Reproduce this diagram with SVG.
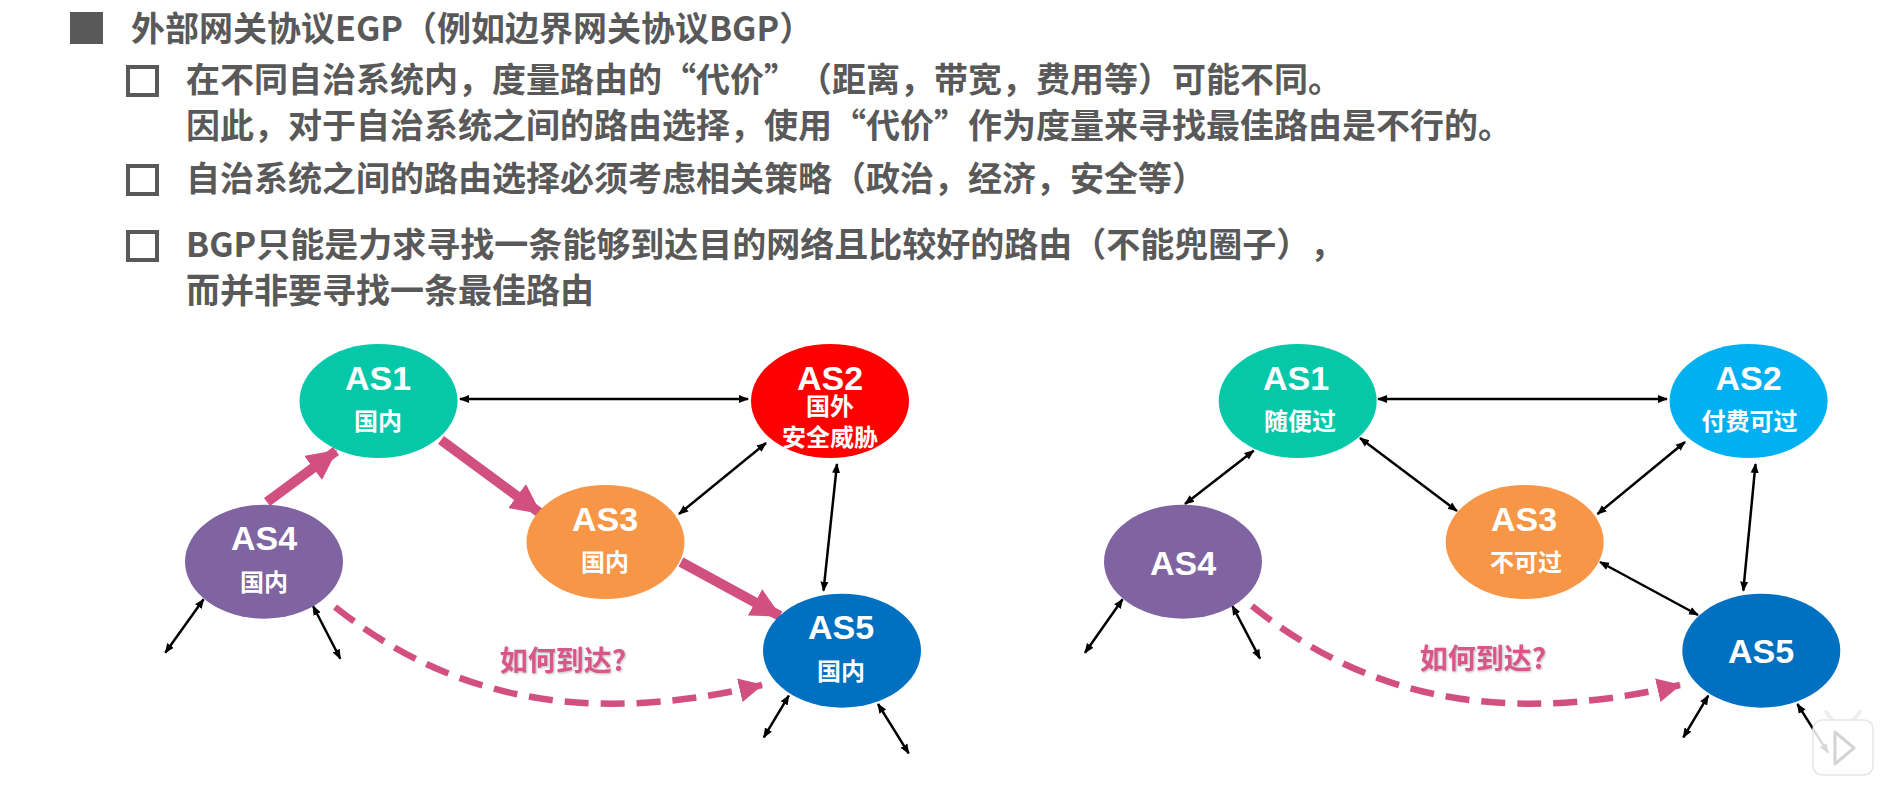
<svg xmlns="http://www.w3.org/2000/svg" width="1892" height="808" viewBox="0 0 1892 808">
<style>
.t{font-family:"Noto Sans CJK SC","Noto Sans",sans-serif;font-weight:700;fill:#595959;font-size:34px;text-spacing-trim:space-all}
.as{font-family:"Liberation Sans","Noto Sans CJK SC",sans-serif;font-weight:700;fill:#fff;font-size:34px;text-anchor:middle}
.sub{font-family:"Noto Sans CJK SC",sans-serif;font-weight:700;fill:#fff;font-size:24px;text-anchor:middle}
.q{font-family:"Noto Sans CJK SC",sans-serif;font-weight:700;fill:#D9558A;font-size:28px;text-anchor:middle;filter:url(#sh)}
.box{fill:none;stroke:#595959;stroke-width:4}
.b{stroke:#000;stroke-width:2.500;fill:none;marker-start:url(#ab);marker-end:url(#ab)}
.p{stroke:#D25080;stroke-width:10;fill:none;marker-end:url(#ap)}
.d{stroke:#D25080;stroke-width:6.500;fill:none;stroke-dasharray:24 12;marker-end:url(#ad)}
</style>
<defs>
<filter id="sh" x="-10%" y="-20%" width="120%" height="140%"><feDropShadow dx="1" dy="1" stdDeviation="1" flood-color="#999" flood-opacity=".7"/></filter>
<marker id="ab" viewBox="0 0 10 10" refX="9" refY="5" markerWidth="10" markerHeight="10" markerUnits="userSpaceOnUse" orient="auto-start-reverse"><path d="M0 1L10 5L0 9z" fill="#000"/></marker>
<marker id="ap" viewBox="0 0 10 10" refX="9.500" refY="5" markerWidth="30" markerHeight="30" markerUnits="userSpaceOnUse" orient="auto"><path d="M0 0L10 5L0 10z" fill="#D25080"/></marker>
<marker id="ad" viewBox="0 0 10 10" refX="9.500" refY="5" markerWidth="24" markerHeight="24" markerUnits="userSpaceOnUse" orient="auto"><path d="M0 0L10 5L0 10z" fill="#D25080"/></marker>
</defs>
<rect width="1892" height="808" fill="#fff"/>
<g id="bullets">
<rect x="70" y="12" width="33" height="32" fill="#595959"/>
<rect class="box" x="128" y="67" width="29" height="28"/>
<rect class="box" x="128" y="166" width="29" height="28"/>
<rect class="box" x="128" y="232" width="29" height="28"/>
</g>
<g id="text">
<text class="t" x="131" y="41">外部网关协议EGP（例如边界网关协议BGP）</text>
<text class="t" x="186" y="92">在不同自治系统内，度量路由的“代价”（距离，带宽，费用等）可能不同。</text>
<text class="t" x="186" y="138">因此，对于自治系统之间的路由选择，使用“代价”作为度量来寻找最佳路由是不行的。</text>
<text class="t" x="186" y="191">自治系统之间的路由选择必须考虑相关策略（政治，经济，安全等）</text>
<text class="t" x="186" y="257">BGP只能是力求寻找一条能够到达目的网络且比较好的路由（不能兜圈子），</text>
<text class="t" x="186" y="303">而并非要寻找一条最佳路由</text>
</g>
<g id="connectors">
<path class="b" d="M460 399H748"/>
<path class="b" d="M766 443L679 514"/>
<path class="b" d="M837 464L823.500 590.700"/>
<path class="b" d="M203.600 599.300L165.300 652.700"/>
<path class="b" d="M313 606L340.300 658.700"/>
<path class="b" d="M788.800 695.700L763.800 737.300"/>
<path class="b" d="M878 704L908.700 753.300"/>
<path class="p" d="M267 502L336 451"/>
<path class="p" d="M441 440L540 513"/>
<path class="p" d="M681 562L780 616"/>
<path class="d" d="M335 607C440 690 570 730 762 685"/>
<path class="b" d="M1378 399H1667"/>
<path class="b" d="M1360 438L1457 511"/>
<path class="b" d="M1685 442L1597.500 514"/>
<path class="b" d="M1755.500 464L1743.300 590.700"/>
<path class="b" d="M1600 562L1698 615"/>
<path class="b" d="M1253.600 450.700L1185 504"/>
<path class="b" d="M1122.600 599.300L1085 652.700"/>
<path class="b" d="M1232.400 606L1260 658.700"/>
<path class="b" d="M1708.300 695.700L1683.300 737.300"/>
<path class="b" d="M1797.400 704L1828 752.700"/>
<path class="d" d="M1252 606C1357 690 1488 730 1680 685"/>
</g>
<g id="l-as1"><ellipse cx="378.500" cy="401" rx="79" ry="57" fill="#05C8A8"/><text class="as" x="378" y="390">AS1</text><text class="sub" x="378" y="430">国内</text></g>
<g id="l-as2"><ellipse cx="830" cy="401" rx="79" ry="57" fill="#FF0000"/><text class="as" x="830" y="390">AS2</text><text class="sub" x="830" y="415">国外</text><text class="sub" x="830" y="446">安全威胁</text></g>
<g id="l-as3"><ellipse cx="605.500" cy="542" rx="79" ry="57" fill="#F79646"/><text class="as" x="605" y="531">AS3</text><text class="sub" x="605" y="571">国内</text></g>
<g id="l-as4"><ellipse cx="264" cy="561.700" rx="79" ry="57" fill="#8064A2"/><text class="as" x="264" y="550">AS4</text><text class="sub" x="264" y="591">国内</text></g>
<g id="l-as5"><ellipse cx="842" cy="650.700" rx="79" ry="57" fill="#0070C0"/><text class="as" x="841" y="639">AS5</text><text class="sub" x="841" y="680">国内</text></g>
<g id="r-as1"><ellipse cx="1297.700" cy="401" rx="79" ry="57" fill="#05C8A8"/><text class="as" x="1296" y="390">AS1</text><text class="sub" x="1300" y="430">随便过</text></g>
<g id="r-as2"><ellipse cx="1748.600" cy="401" rx="79" ry="57" fill="#00B0F0"/><text class="as" x="1748.500" y="390">AS2</text><text class="sub" x="1749.500" y="430">付费可过</text></g>
<g id="r-as3"><ellipse cx="1524.700" cy="542" rx="79" ry="57" fill="#F79646"/><text class="as" x="1524" y="531">AS3</text><text class="sub" x="1526" y="571">不可过</text></g>
<g id="r-as4"><ellipse cx="1183" cy="561.700" rx="79" ry="57" fill="#8064A2"/><text class="as" x="1183" y="575">AS4</text></g>
<g id="r-as5"><ellipse cx="1761.300" cy="650.700" rx="79" ry="57" fill="#0070C0"/><text class="as" x="1761" y="663">AS5</text></g>
<g id="labels">
<text class="q" x="563" y="671">如何到达?</text>
<text class="q" x="1483" y="669">如何到达?</text>
</g>
<g id="watermark">
<path d="M1834 722L1826 712M1852 722L1860 712" stroke="#eee" stroke-width="4" fill="none" stroke-linecap="round"/>
<rect x="1813" y="720" width="60" height="55" rx="9" fill="#fff" fill-opacity=".85" stroke="#e6e6e6" stroke-width="1.500"/>
<path d="M1835 732L1854 748L1835 764z" fill="#fff" stroke="#d4d4d4" stroke-width="3" stroke-linejoin="round"/>
</g>
</svg>
